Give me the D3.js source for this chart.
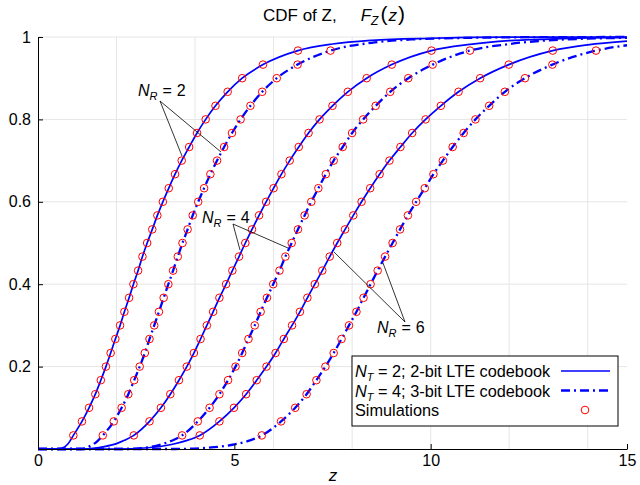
<!DOCTYPE html>
<html>
<head>
<meta charset="utf-8">
<script src="https://cdn.jsdelivr.net/npm/d3@7"></script>
<style>
  body { margin: 0; background: #fff; }
  text { font-family: "Liberation Sans", Arial, sans-serif; fill: #000; }
</style>
</head>
<body>
<div id="chart"></div>
<script>
// quantile levels where the simulation markers sit
const simLevels = [0.033, 0.067, 0.100, 0.133, 0.167, 0.200, 0.233, 0.267, 0.300, 0.333,
                   0.367, 0.400, 0.433, 0.467, 0.500, 0.533, 0.567, 0.600, 0.633, 0.667,
                   0.700, 0.733, 0.767, 0.800, 0.833, 0.867, 0.900, 0.933, 0.967];

// z value of each marker, one list per curve
const nt2nr2Sim = [0.90, 1.12, 1.30, 1.46, 1.60, 1.73, 1.85, 1.97, 2.09, 2.20, 2.32, 2.43, 2.55, 2.66, 2.78,
                   2.91, 3.04, 3.18, 3.33, 3.49, 3.66, 3.85, 4.05, 4.27, 4.52, 4.83, 5.20, 5.73, 6.62];
const nt4nr2Sim = [1.65, 1.93, 2.13, 2.30, 2.45, 2.59, 2.72, 2.84, 2.96, 3.08, 3.20, 3.32, 3.44, 3.56, 3.68,
                   3.81, 3.94, 4.08, 4.23, 4.39, 4.56, 4.74, 4.94, 5.16, 5.41, 5.71, 6.08, 6.61, 7.45];
const nt2nr4Sim = [2.44, 2.84, 3.13, 3.37, 3.59, 3.79, 3.97, 4.14, 4.30, 4.46, 4.62, 4.79, 4.95, 5.12, 5.28,
                   5.45, 5.63, 5.81, 6.00, 6.20, 6.41, 6.64, 6.89, 7.17, 7.50, 7.89, 8.37, 9.01, 10.02];
const nt4nr4Sim = [3.67, 4.07, 4.37, 4.62, 4.84, 5.03, 5.20, 5.36, 5.52, 5.67, 5.83, 5.99, 6.15, 6.30, 6.46,
                   6.62, 6.79, 6.96, 7.14, 7.33, 7.53, 7.76, 8.00, 8.28, 8.60, 8.97, 9.43, 10.05, 11.00];
const nt2nr6Sim = [4.12, 4.62, 4.99, 5.30, 5.57, 5.82, 6.05, 6.26, 6.47, 6.67, 6.86, 7.05, 7.24, 7.43, 7.62,
                   7.82, 8.03, 8.24, 8.46, 8.70, 8.95, 9.23, 9.53, 9.87, 10.26, 10.71, 11.26, 11.99, 13.11];
const nt4nr6Sim = [5.70, 6.19, 6.55, 6.84, 7.09, 7.32, 7.53, 7.73, 7.92, 8.11, 8.29, 8.47, 8.65, 8.84, 9.03,
                   9.22, 9.42, 9.63, 9.85, 10.07, 10.31, 10.56, 10.84, 11.14, 11.49, 11.89, 12.40, 13.10, 14.21];

// analytic curves outside the marker range: [z, F]
const nt2nr2Head = [[0, 0], [0.5, 0], [0.62, 0.002], [0.76, 0.012]];
const nt2nr2Tail = [[7.5, 0.983], [8.5, 0.992], [10, 0.997], [12, 0.9995], [15, 1]];
const nt4nr2Head = [[0, 0], [1.1, 0], [1.3, 0.006], [1.5, 0.018]];
const nt4nr2Tail = [[8.5, 0.986], [9.5, 0.994], [11, 0.998], [13, 0.9997], [15, 1]];
const nt2nr4Head = [[0, 0], [1.2, 0], [1.65, 0.005], [2.0, 0.013], [2.2, 0.021]];
const nt2nr4Tail = [[11, 0.982], [12, 0.991], [13, 0.995], [14, 0.998], [15, 0.999]];
const nt4nr4Head = [[0, 0], [2.2, 0], [2.8, 0.004], [3.2, 0.013], [3.45, 0.022]];
const nt4nr4Tail = [[12, 0.983], [13, 0.992], [14, 0.996], [15, 0.998]];
const nt2nr6Head = [[0, 0], [2.0, 0], [2.8, 0.003], [3.4, 0.011], [3.8, 0.021]];
const nt2nr6Tail = [[14, 0.981], [15, 0.99]];
const nt4nr6Head = [[0, 0], [3.5, 0], [4.3, 0.003], [5.0, 0.011], [5.4, 0.021]];
const nt4nr6Tail = [[15, 0.98]];

const xTicks = [0, 5, 10, 15];
const yTicks = [0.2, 0.4, 0.6, 0.8, 1];
const xGrid = [2, 4, 6, 8, 10, 12, 14];
const yGrid = [0.2, 0.4, 0.6, 0.8, 1];

const width = 640, height = 485;

const x = d3.scaleLinear().domain([0, 15]).range([38, 627]);
const y = d3.scaleLinear().domain([0, 1]).range([449, 37]);

const svg = d3.select("#chart").append("svg")
  .attr("width", width)
  .attr("height", height);

svg.append("rect").attr("width", width).attr("height", height).attr("fill", "#fff");

// grid
svg.append("g").selectAll("line").data(xGrid).enter().append("line")
  .attr("x1", d => x(d)).attr("x2", d => x(d))
  .attr("y1", y(0)).attr("y2", y(1))
  .attr("stroke", "#e6e6e6").attr("stroke-width", 1);
svg.append("g").selectAll("line").data(yGrid).enter().append("line")
  .attr("x1", x(0)).attr("x2", x(15))
  .attr("y1", d => y(d)).attr("y2", d => y(d))
  .attr("stroke", "#e6e6e6").attr("stroke-width", 1);

// curves
const series = [
  { head: nt2nr2Head, sim: nt2nr2Sim, tail: nt2nr2Tail, dashed: false },
  { head: nt4nr2Head, sim: nt4nr2Sim, tail: nt4nr2Tail, dashed: true },
  { head: nt2nr4Head, sim: nt2nr4Sim, tail: nt2nr4Tail, dashed: false },
  { head: nt4nr4Head, sim: nt4nr4Sim, tail: nt4nr4Tail, dashed: true },
  { head: nt2nr6Head, sim: nt2nr6Sim, tail: nt2nr6Tail, dashed: false },
  { head: nt4nr6Head, sim: nt4nr6Sim, tail: nt4nr6Tail, dashed: true },
];

const line = d3.line()
  .x(d => x(d[0]))
  .y(d => y(d[1]))
  .curve(d3.curveMonotoneX);

series.forEach(s => {
  const pts = s.head.concat(s.sim.map((z, i) => [z, simLevels[i]]), s.tail);
  svg.append("path")
    .datum(pts)
    .attr("d", line)
    .attr("fill", "none")
    .attr("stroke", "#0000ff")
    .attr("stroke-width", s.dashed ? 2.3 : 1.7)
    .attr("stroke-dasharray", s.dashed ? "9,4,2,4" : null);
});

// simulation markers
series.forEach(s => {
  svg.append("g").selectAll("circle")
    .data(s.sim.map((z, i) => [z, simLevels[i]]))
    .enter().append("circle")
    .attr("cx", d => x(d[0]))
    .attr("cy", d => y(d[1]))
    .attr("r", 3.8)
    .attr("fill", "none")
    .attr("stroke", "#ff0000")
    .attr("stroke-width", 1);
});

// axes
const xAxis = d3.axisBottom(x).tickValues(xTicks).tickSizeInner(-5).tickSizeOuter(0).tickPadding(6)
  .tickFormat(d3.format("d"));
const yAxis = d3.axisLeft(y).tickValues(yTicks).tickSizeInner(-5).tickSizeOuter(0).tickPadding(7)
  .tickFormat(d => d === 1 ? "1" : d3.format(".1f")(d));

const gx = svg.append("g").attr("transform", `translate(0,${y(0)})`).call(xAxis);
const gy = svg.append("g").attr("transform", `translate(${x(0)},0)`).call(yAxis);
[gx, gy].forEach(g => {
  g.attr("color", "#000");
  g.selectAll("text").style("font-size", "16px").style("font-family", '"Liberation Sans", Arial, sans-serif');
});

// axis label
svg.append("text")
  .attr("x", 333).attr("y", 481)
  .attr("text-anchor", "middle")
  .style("font-size", "17px").style("font-style", "italic")
  .text("z");

// title
const title = svg.append("text")
  .attr("x", 263).attr("y", 21)
  .style("font-size", "17px")
  .attr("xml:space", "preserve");
title.append("tspan").text("CDF of Z,");
title.append("tspan").attr("dx", 24).style("font-style", "italic").text("F");
title.append("tspan").attr("dy", 4).style("font-size", "12px").style("font-style", "italic").text("Z");
title.append("tspan").attr("dy", -4).attr("dx", 2).style("font-size", "21px").text("(");
title.append("tspan").attr("dx", 1).style("font-style", "italic").text("z");
title.append("tspan").attr("dx", 1).style("font-size", "21px").text(")");

// N_R annotations
const notes = [
  { label: "2", tx: 138, ty: 96, from: [160, 101], to: [[182, 156], [221, 152]] },
  { label: "4", tx: 202, ty: 223, from: [233, 224], to: [[240, 250], [288, 248]] },
  { label: "6", tx: 377, ty: 333, from: [405, 322], to: [[334, 252], [383, 263]] },
];
notes.forEach(n => {
  n.to.forEach(t => {
    svg.append("line")
      .attr("x1", n.from[0]).attr("y1", n.from[1])
      .attr("x2", t[0]).attr("y2", t[1])
      .attr("stroke", "#000").attr("stroke-width", 0.8);
  });
  const t = svg.append("text").attr("x", n.tx).attr("y", n.ty).style("font-size", "16px");
  t.append("tspan").style("font-style", "italic").text("N");
  t.append("tspan").attr("dy", 4).style("font-size", "11px").style("font-style", "italic").text("R");
  t.append("tspan").attr("dy", -4).attr("dx", 5).text("=");
  t.append("tspan").attr("dx", 5).text(n.label);
});

// legend
const legend = svg.append("g").attr("transform", "translate(352,356)");
legend.append("rect")
  .attr("width", 266).attr("height", 70)
  .attr("fill", "#fff").attr("stroke", "#000").attr("stroke-width", 1);

const legendRows = [
  { nt: "2", rest: " = 2; 2-bit LTE codebook", kind: "solid" },
  { nt: "4", rest: " = 4; 3-bit LTE codebook", kind: "dash" },
  { nt: null, rest: "Simulations", kind: "marker" },
];
legendRows.forEach((r, i) => {
  const ty = 21 + i * 19.5;
  const t = legend.append("text").attr("x", 3).attr("y", ty).style("font-size", "16.3px")
    .attr("xml:space", "preserve");
  if (r.nt) {
    t.append("tspan").style("font-style", "italic").text("N");
    t.append("tspan").attr("dy", 4).style("font-size", "11px").style("font-style", "italic").text("T");
    t.append("tspan").attr("dy", -4).text(r.rest);
  } else {
    t.text(r.rest);
  }
  const cy = ty - 6;
  if (r.kind === "marker") {
    legend.append("circle").attr("cx", 233).attr("cy", cy).attr("r", 3.8)
      .attr("fill", "none").attr("stroke", "#ff0000").attr("stroke-width", 1);
  } else {
    legend.append("line")
      .attr("x1", 209).attr("x2", 258).attr("y1", cy).attr("y2", cy)
      .attr("stroke", "#0000ff")
      .attr("stroke-width", r.kind === "dash" ? 2.3 : 1.7)
      .attr("stroke-dasharray", r.kind === "dash" ? "9,4,2,4" : null);
  }
});
</script>
</body>
</html>
